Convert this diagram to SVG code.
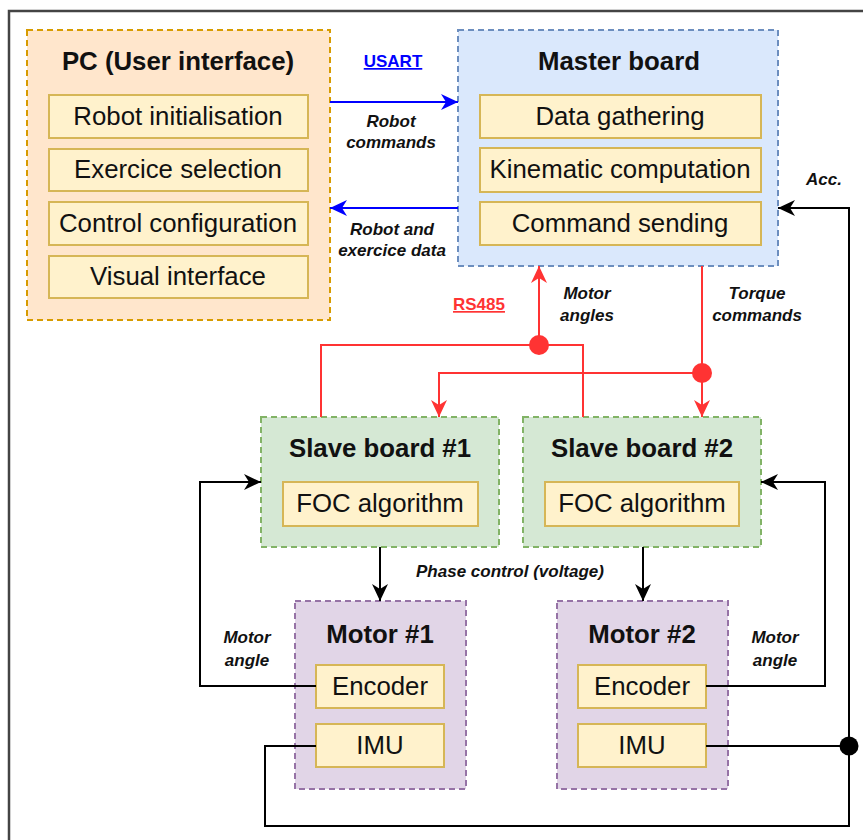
<svg xmlns="http://www.w3.org/2000/svg" width="863" height="840" viewBox="0 0 863 840">
<style>
.box{stroke-width:2;stroke-dasharray:6 4}
.pc{fill:#ffe6cc;stroke:#d79b00}
.master{fill:#dae8fc;stroke:#6c8ebf}
.slave{fill:#d5e8d4;stroke:#82b366}
.motor{fill:#e1d5e7;stroke:#9673a6}
.inner{fill:#fff2cc;stroke:#d6b656;stroke-width:2}
.t{font-family:"Liberation Sans",Arial,sans-serif;font-size:25.8px;fill:#111;text-anchor:middle}
.tb{font-family:"Liberation Sans",Arial,sans-serif;font-size:25.8px;font-weight:bold;fill:#111;text-anchor:middle}
.lab{font-family:"Liberation Sans",Arial,sans-serif;font-size:17px;font-weight:bold;font-style:italic;fill:#111;text-anchor:middle}
.bus{font-family:"Liberation Sans",Arial,sans-serif;font-size:17px;font-weight:bold;text-anchor:middle;text-decoration:underline}
.wb{fill:none;stroke:#0000ff;stroke-width:2}
.wr{fill:none;stroke:#ff3333;stroke-width:2}
.wk{fill:none;stroke:#000;stroke-width:2}
</style>
<defs>
<marker id="ab" markerUnits="userSpaceOnUse" markerWidth="17" markerHeight="16" refX="17" refY="8" orient="auto"><path d="M0,0 L17,8 L0,16 L5,8 Z" fill="#0000ff"/></marker>
<marker id="ar" markerUnits="userSpaceOnUse" markerWidth="17" markerHeight="16" refX="17" refY="8" orient="auto"><path d="M0,0 L17,8 L0,16 L5,8 Z" fill="#ff3333"/></marker>
<marker id="ak" markerUnits="userSpaceOnUse" markerWidth="17" markerHeight="16" refX="17" refY="8" orient="auto"><path d="M0,0 L17,8 L0,16 L5,8 Z" fill="#000"/></marker>
</defs>
<rect width="863" height="840" fill="#fff"/>
<path d="M9,840 V11 H863" fill="none" stroke="#444" stroke-width="2.5"/>

<g id="pc">
<rect class="box pc" x="27" y="30" width="303" height="290"/>
<text class="tb" x="178" y="70">PC (User interface)</text>
<rect class="inner" x="49" y="95" width="259" height="43"/>
<text class="t" x="178" y="125">Robot initialisation</text>
<rect class="inner" x="49" y="149" width="259" height="42"/>
<text class="t" x="178" y="178">Exercice selection</text>
<rect class="inner" x="49" y="202" width="259" height="43"/>
<text class="t" x="178" y="232">Control configuration</text>
<rect class="inner" x="49" y="256" width="259" height="42"/>
<text class="t" x="178" y="285">Visual interface</text>
</g>

<g id="master">
<rect class="box master" x="458" y="30" width="320" height="236"/>
<text class="tb" x="619" y="70">Master board</text>
<rect class="inner" x="480" y="95" width="281" height="43"/>
<text class="t" x="620" y="125">Data gathering</text>
<rect class="inner" x="480" y="148" width="281" height="44"/>
<text class="t" x="620" y="178">Kinematic computation</text>
<rect class="inner" x="480" y="202" width="281" height="43"/>
<text class="t" x="620" y="232">Command sending</text>
</g>

<g id="slave1">
<rect class="box slave" x="261" y="417" width="238" height="130"/>
<text class="tb" x="380" y="457">Slave board #1</text>
<rect class="inner" x="283" y="482" width="195" height="44"/>
<text class="t" x="380" y="512">FOC algorithm</text>
</g>

<g id="slave2">
<rect class="box slave" x="523" y="417" width="238" height="130"/>
<text class="tb" x="642" y="457">Slave board #2</text>
<rect class="inner" x="545" y="482" width="194" height="44"/>
<text class="t" x="642" y="512">FOC algorithm</text>
</g>

<g id="motor1">
<rect class="box motor" x="295" y="601" width="171" height="188"/>
<text class="tb" x="380" y="643">Motor #1</text>
<rect class="inner" x="316" y="665" width="128" height="43"/>
<text class="t" x="380" y="695">Encoder</text>
<rect class="inner" x="316" y="724" width="128" height="43"/>
<text class="t" x="380" y="754">IMU</text>
</g>

<g id="motor2">
<rect class="box motor" x="557" y="601" width="171" height="188"/>
<text class="tb" x="642" y="643">Motor #2</text>
<rect class="inner" x="578" y="665" width="128" height="43"/>
<text class="t" x="642" y="695">Encoder</text>
<rect class="inner" x="578" y="724" width="128" height="43"/>
<text class="t" x="642" y="754">IMU</text>
</g>

<g id="connectors">
<path class="wb" d="M330,102 H458" marker-end="url(#ab)"/>
<path class="wb" d="M458,208 H330" marker-end="url(#ab)"/>
<path class="wr" d="M539,345 V266" marker-end="url(#ar)"/>
<path class="wr" d="M321,417 V345 H583 V417"/>
<path class="wr" d="M702,266 V417" marker-end="url(#ar)"/>
<path class="wr" d="M702,373 H439 V417" marker-end="url(#ar)"/>
<circle cx="539" cy="345" r="10" fill="#ff3333"/>
<circle cx="702" cy="373" r="10" fill="#ff3333"/>
<path class="wk" d="M380,547 V601" marker-end="url(#ak)"/>
<path class="wk" d="M643,547 V601" marker-end="url(#ak)"/>
<path class="wk" d="M316,686 H200 V482 H261" marker-end="url(#ak)"/>
<path class="wk" d="M706,686 H825 V482 H761" marker-end="url(#ak)"/>
<path class="wk" d="M316,746 H265 V826 H849 V208 H778" marker-end="url(#ak)"/>
<path class="wk" d="M706,746 H849"/>
<circle cx="849" cy="746" r="9.5" fill="#000"/>
</g>

<g id="labels">
<text class="bus" x="393" y="67" fill="#0000ff">USART</text>
<text class="lab" x="391" y="127">Robot</text>
<text class="lab" x="391" y="148">commands</text>
<text class="lab" x="392" y="235">Robot and</text>
<text class="lab" x="392" y="256">exercice data</text>
<text class="bus" x="479" y="310" fill="#ff3333">RS485</text>
<text class="lab" x="587" y="299">Motor</text>
<text class="lab" x="587" y="321">angles</text>
<text class="lab" x="757" y="299">Torque</text>
<text class="lab" x="757" y="321">commands</text>
<text class="lab" x="824" y="185">Acc.</text>
<text class="lab" x="510" y="577">Phase control (voltage)</text>
<text class="lab" x="247" y="643">Motor</text>
<text class="lab" x="247" y="666">angle</text>
<text class="lab" x="775" y="643">Motor</text>
<text class="lab" x="775" y="666">angle</text>
</g>
</svg>
